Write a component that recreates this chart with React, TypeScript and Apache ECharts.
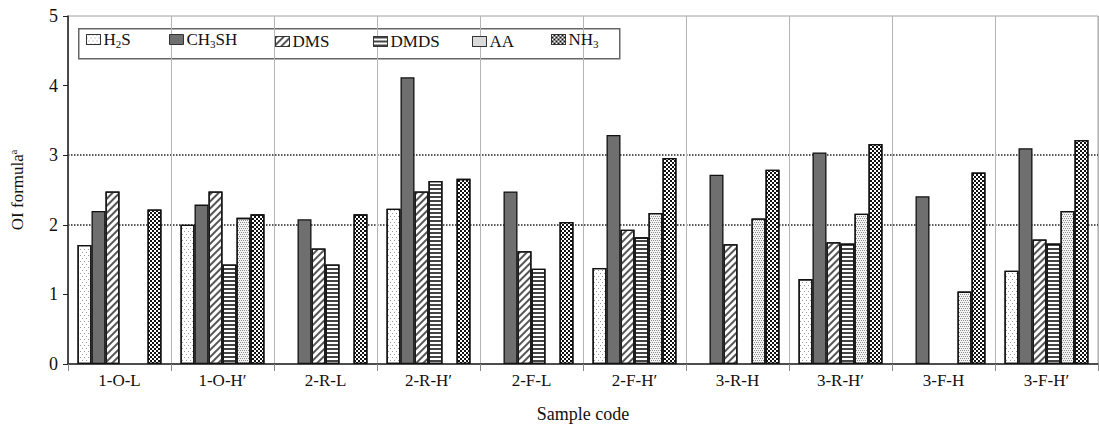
import React, { useEffect, useRef } from "react";
import * as echarts from "echarts";

const categories = ["1-O-L", "1-O-H′", "2-R-L", "2-R-H′", "2-F-L", "2-F-H′", "3-R-H", "3-R-H′", "3-F-H", "3-F-H′"];
const seriesNames = ["H2S", "CH3SH", "DMS", "DMDS", "AA", "NH3"];
const h2s = [1.71, 2.0, null, 2.23, null, 1.38, null, 1.22, null, 1.34];
const ch3sh = [2.2, 2.29, 2.08, 4.12, 2.48, 3.29, 2.72, 3.04, 2.41, 3.1];
const dms = [2.48, 2.48, 1.66, 2.48, 1.62, 1.93, 1.72, 1.75, null, 1.79];
const dmds = [null, 1.43, 1.43, 2.63, 1.37, 1.82, null, 1.73, null, 1.73];
const aa = [null, 2.1, null, null, null, 2.17, 2.09, 2.16, 1.04, 2.2];
const nh3 = [2.22, 2.15, 2.15, 2.66, 2.04, 2.96, 2.79, 3.16, 2.75, 3.22];
const yTicks = [0, 1, 2, 3, 4, 5];

const legendLabels: Record<string, string> = {
  H2S: "H{s|2}S",
  CH3SH: "CH{s|3}SH",
  DMS: "DMS",
  DMDS: "DMDS",
  AA: "AA",
  NH3: "NH{s|3}",
};

const FONT = "'Liberation Serif', 'Times New Roman', serif";

export default function App() {
  const ref = useRef<HTMLDivElement>(null);
  useEffect(() => {
    const chart = echarts.init(ref.current!, null, { renderer: "svg" });
    const dataSets = [h2s, ch3sh, dms, dmds, aa, nh3];
    const styles: any[] = [
      {
        color: "#fff",
        decal: { symbol: "rect", symbolSize: 1, dashArrayX: [[1, 3], [0, 2, 1, 1]], dashArrayY: [1, 1.5], color: "#9a9a9a" },
      },
      { color: "#6f6f6f" },
      {
        color: "#fff",
        decal: { symbol: "rect", symbolSize: 1, dashArrayX: [1, 0], dashArrayY: [1.3, 2.2], rotation: -Math.PI / 4, color: "#555" },
      },
      {
        color: "#fff",
        decal: { symbol: "rect", symbolSize: 1, dashArrayX: [1, 0], dashArrayY: [1.2, 1.6], rotation: 0, color: "#444" },
      },
      {
        color: "#f4f4f4",
        decal: { symbol: "rect", symbolSize: 1, dashArrayX: [[1, 1], [0, 1, 1, 0]], dashArrayY: [1, 1], color: "#8c8c8c" },
      },
      {
        color: "#fff",
        decal: { symbol: "rect", symbolSize: 1, dashArrayX: [[2, 2], [0, 2, 2, 0]], dashArrayY: [2, 0], color: "#111" },
      },
    ];
    const legendX = [86, 169, 275, 373, 472, 551];
    const richSub = { s: { fontSize: 11, fontFamily: FONT, color: "#111", padding: [9, 0, 0, 0] } };

    chart.setOption({
      animation: false,
      backgroundColor: "#fff",
      grid: { left: 66, right: 1, top: 16, bottom: 62, show: true, borderColor: "#a0a0a0", borderWidth: 1, backgroundColor: "transparent" },
      legend: seriesNames.map((n, i) => ({
        data: [n],
        left: legendX[i],
        top: legendLabels[n].includes("{") ? 31 : 33,
        padding: 0,
        icon: "rect",
        itemWidth: 14,
        itemHeight: 10,
        itemGap: 0,
        selectedMode: false,
        formatter: (name: string) => legendLabels[name],
        textStyle: { fontFamily: FONT, fontSize: 17, color: "#111", padding: [0, 0, 0, -2], rich: richSub },
        itemStyle: { ...styles[i], borderColor: "#333", borderWidth: 1 },
      })),
      graphic: [
        {
          type: "rect",
          left: 78,
          top: 28,
          shape: { width: 541, height: 30 },
          style: { fill: "#fff", stroke: "#666", lineWidth: 1.5 },
          z: 0,
          silent: true,
        },
      ],
      xAxis: {
        type: "category",
        data: categories,
        name: "Sample code",
        nameLocation: "middle",
        nameGap: 41,
        nameTextStyle: { fontFamily: FONT, fontSize: 18, color: "#111" },
        axisLine: { lineStyle: { color: "#222", width: 1.5 } },
        axisTick: { show: true, length: 7, lineStyle: { color: "#888" } },
        axisLabel: { fontFamily: FONT, fontSize: 17, color: "#111", margin: 8 },
        splitLine: { show: true, lineStyle: { color: "#b5b5b5", width: 1 } },
      },
      yAxis: {
        type: "value",
        min: 0,
        max: 5,
        interval: 1,
        name: "OI formula{sup|a}",
        nameLocation: "middle",
        nameGap: 42,
        nameTextStyle: {
          fontFamily: FONT,
          fontSize: 17,
          color: "#111",
          rich: { sup: { fontSize: 10, fontFamily: FONT, color: "#111", padding: [0, 0, 8, 0] } },
        },
        axisLine: { show: true, lineStyle: { color: "#222", width: 1.5 } },
        axisTick: { show: true, length: 5, lineStyle: { color: "#222" } },
        axisLabel: {
          fontFamily: FONT,
          fontSize: 18,
          color: "#111",
          margin: 10,
          formatter: (v: number) => (yTicks.includes(v) ? String(v) : ""),
        },
        splitLine: {
          show: true,
          lineStyle: {
            type: "dotted",
            width: 1.5,
            color: ["rgba(0,0,0,0)", "rgba(0,0,0,0)", "#222", "#222", "rgba(0,0,0,0)", "rgba(0,0,0,0)"],
          },
        },
      },
      series: seriesNames.map((n, i) => ({
        name: n,
        type: "bar",
        data: dataSets[i].map((v) => (v === null ? "-" : v)),
        barWidth: 14,
        barGap: "0%",
        itemStyle: { ...styles[i], borderColor: "#111", borderWidth: 1.3 },
        emphasis: { disabled: true },
      })),
    });
    return () => chart.dispose();
  }, []);
  return <div ref={ref} style={{ position: "absolute", left: 0, top: 0, width: 1099, height: 428 }} />;
}
